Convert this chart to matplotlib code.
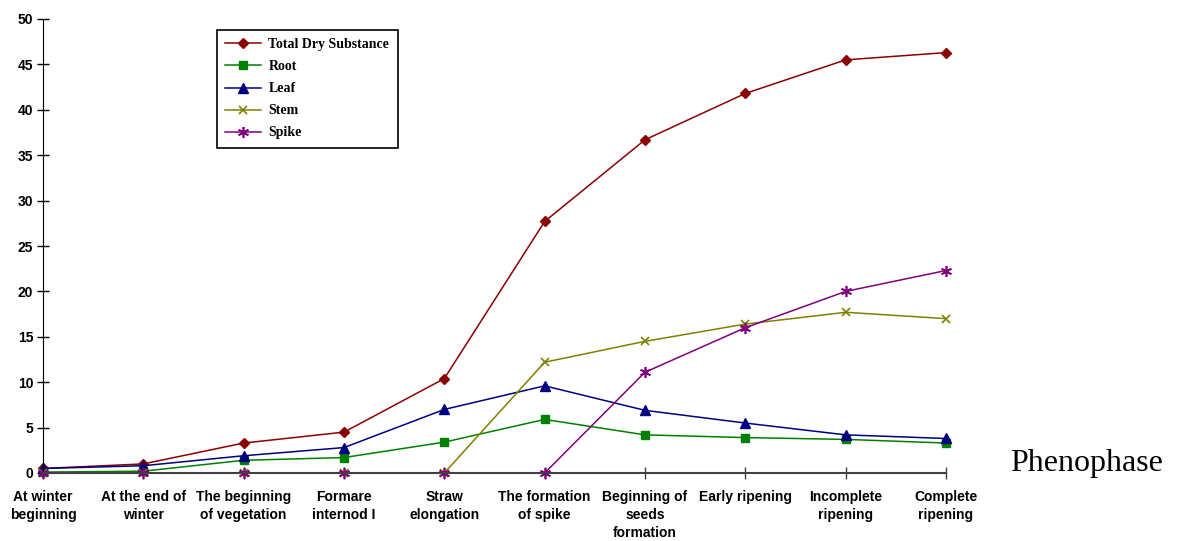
import matplotlib.pyplot as plt

phases = ["At winter\nbeginning", "At the end of\nwinter", "The beginning\nof vegetation",
          "Formare\ninternod I", "Straw\nelongation", "The formation\nof spike",
          "Beginning of\nseeds\nformation", "Early ripening", "Incomplete\nripening",
          "Complete\nripening"]

total = [0.5, 1.0, 3.3, 4.5, 10.4, 27.7, 36.7, 41.8, 45.5, 46.3]
root = [0.1, 0.2, 1.4, 1.7, 3.4, 5.9, 4.2, 3.9, 3.7, 3.3]
leaf = [0.5, 0.8, 1.9, 2.8, 7.0, 9.6, 6.9, 5.5, 4.2, 3.8]
stem = [0, 0, 0, 0, 0, 12.2, 14.5, 16.4, 17.7, 17.0]
spike = [0, 0, 0, 0, 0, 0, 11.1, 16.0, 20.0, 22.3]

fig = plt.figure(figsize=(11.81, 5.41), dpi=100)
ax = fig.add_axes([43 / 1181, 1 - 473 / 541, (946 - 43) / 1181, (473 - 19) / 541])

x = range(len(phases))
ax.plot(x, total, color="#8B0000", marker="D", markersize=5, lw=1.1, label="Total Dry Substance")
ax.plot(x, root, color="#008000", marker="s", markersize=6, lw=1.1, label="Root")
ax.plot(x, leaf, color="#000080", marker="^", markersize=7, lw=1.1, label="Leaf")
ax.plot(x, stem, color="#808000", marker="x", markersize=6, mew=1.2, lw=1.1, label="Stem")
ax.plot(x, spike, color="#800080", marker=(6, 2, 0), markersize=8, mew=1.2, lw=1.1, label="Spike")

ax.set_xlim(0, len(phases) - 1)
ax.set_ylim(0, 50)
ax.set_yticks(range(0, 51, 5))
ax.set_xticks(list(x))
ax.set_xticklabels(phases, fontsize=10, fontweight="bold", family="Liberation Sans",
                   va="top", linespacing=1.4)
for lab in ax.get_yticklabels():
    lab.set_fontsize(10)
    lab.set_fontweight("bold")
    lab.set_family("Liberation Sans")

ax.spines["top"].set_visible(False)
ax.spines["right"].set_visible(False)
ax.spines["bottom"].set_color("#404040")
ax.spines["bottom"].set_linewidth(1.5)
ax.tick_params(axis="x", direction="inout", length=8, width=1, color="#404040", pad=8)
ax.tick_params(axis="y", direction="inout", length=8, width=1, pad=3)
for line in ax.lines:
    line.set_clip_on(False)

leg = ax.legend(loc="upper left", bbox_to_anchor=(217 / 1181, 1 - 30 / 541),
                bbox_transform=fig.transFigure, borderaxespad=0, fancybox=False,
                framealpha=1, edgecolor="black", handlelength=2.6, handletextpad=0.5,
                prop={"family": "Liberation Serif", "weight": "bold", "size": 10},
                borderpad=0.6, labelspacing=0.65)
leg.get_frame().set_linewidth(1.2)

fig.text(1010 / 1181, 1 - 463 / 541, "Phenophase", family="Liberation Serif",
         fontsize=23, va="center", ha="left")

fig.savefig("out.png", dpi=100)
